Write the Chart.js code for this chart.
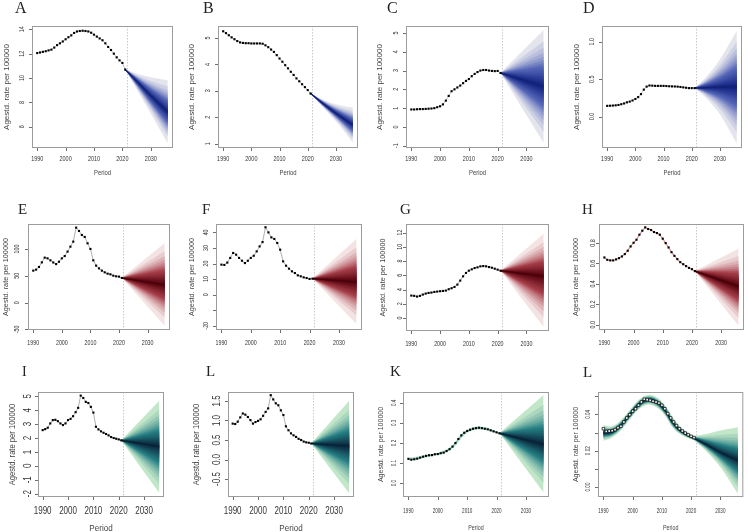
<!DOCTYPE html>
<html>
<head>
<meta charset="utf-8">
<script src="https://cdn.jsdelivr.net/npm/chart.js@4.4.1/dist/chart.umd.min.js"></script>
<style>
html, body { margin: 0; padding: 0; background: #fff; overflow: hidden; }
#fig { position: relative; width: 748px; height: 532px; overflow: hidden; }
#fig canvas { position: absolute; }
</style>
</head>
<body>
<div id="fig"></div>
<script>
// observed years and x ticks
const years = [1990,1991,1992,1993,1994,1995,1996,1997,1998,1999,2000,2001,2002,2003,2004,2005,
               2006,2007,2008,2009,2010,2011,2012,2013,2014,2015,2016,2017,2018,2019,2020,2021];
const xTicks = [1990, 2000, 2010, 2020, 2030];
const letters = ['A','B','C','D','E','F','G','H','I','L','K','L'];

// A
const obsA = [12.05,12.1,12.15,12.2,12.27,12.33,12.5,12.7,12.85,13.0,13.18,13.35,13.5,13.7,13.82,13.86,
              13.88,13.86,13.82,13.72,13.56,13.4,13.25,13.1,12.85,12.55,12.3,12.0,11.7,11.45,11.24,10.7];
const fanYearsA = [2021, 2025, 2030, 2036];
const fanMidA = [10.7, 9.75, 8.55, 7.2];
const fanLowA = [10.7, 9.1, 7.1, 4.65];
const fanHighA = [10.7, 10.35, 10.05, 9.8];
const yTicksA = [6, 8, 10, 12, 14];
const yLabelsA = ['6', '8', '10', '12', '14'];

// B
const obsB = [5.25,5.18,5.1,5.02,4.95,4.88,4.83,4.81,4.8,4.8,4.79,4.79,4.79,4.79,4.78,4.72,
              4.65,4.56,4.47,4.35,4.22,4.1,3.97,3.85,3.72,3.6,3.47,3.36,3.25,3.14,3.03,2.9];
const fanYearsB = [2021, 2025, 2030, 2036];
const fanMidB = [2.9, 2.55, 2.15, 1.71];
const fanLowB = [2.9, 2.42, 1.85, 1.05];
const fanHighB = [2.9, 2.68, 2.48, 2.35];
const yTicksB = [1, 2, 3, 4, 5];
const yLabelsB = ['1', '2', '3', '4', '5'];

// C
const obsC = [0.93,0.93,0.94,0.95,0.95,0.96,0.97,0.98,1.0,1.05,1.1,1.2,1.4,1.65,1.9,2.0,
              2.1,2.2,2.33,2.45,2.55,2.7,2.82,2.92,3.0,3.03,3.03,3.0,2.98,2.97,2.98,2.87];
const fanYearsC = [2021, 2036];
const fanMidC = [2.87, 2.14];
const fanLowC = [2.87, -0.85];
const fanHighC = [2.87, 5.15];
const yTicksC = [-1, 0, 1, 2, 3, 4, 5];
const yLabelsC = ['-1', '0', '1', '2', '3', '4', '5'];

// D
const obsD = [0.143,0.145,0.147,0.15,0.155,0.165,0.175,0.19,0.2,0.215,0.235,0.26,0.3,0.36,0.4,0.415,
              0.413,0.41,0.41,0.41,0.41,0.408,0.405,0.403,0.402,0.4,0.395,0.39,0.385,0.38,0.38,0.38];
const fanYearsD = [2021, 2025, 2030, 2036];
const fanMidD = [0.38, 0.385, 0.39, 0.395];
const fanLowD = [0.38, 0.25, 0.03, -0.36];
const fanHighD = [0.38, 0.52, 0.76, 1.14];
const yTicksD = [0, 0.5, 1.0];
const yLabelsD = ['0.0', '0.5', '1.0'];

// E
const obsE = [59.8,61.7,66.6,75.2,84,82.7,79,75,72,76.4,82.7,87,95.3,104.5,113.9,140,
              133.8,126.3,122.6,110.8,100.2,79,69.1,64,59.8,56.6,54.1,52.9,50.4,49.2,48.6,46.1];
const fanYearsE = [2021, 2036];
const fanMidE = [46.1, 33];
const fanLowE = [46.1, -43];
const fanHighE = [46.1, 111];
const yTicksE = [-50, 0, 50, 100];
const yLabelsE = ['-50', '0', '50', '100'];

// F
const obsF = [19.3,19.1,20.6,23.6,26.8,25.7,23.6,21.8,20.3,21.8,23.6,25,27.8,31,33.8,43.3,
              40,36.8,35.8,33.2,28.9,21.4,18.6,16.7,15,13.9,12.4,11.8,11.1,10.7,10.1,10.3];
const fanYearsF = [2021, 2036];
const fanMidF = [10.3, 8.1];
const fanLowF = [10.3, -18.8];
const fanHighF = [10.3, 35.8];
const yTicksF = [-20, -10, 0, 10, 20, 30, 40];
const yLabelsF = ['-20', '', '0', '10', '20', '30', '40'];

// G
const obsG = [3.16,3.12,3.02,3.12,3.3,3.44,3.53,3.58,3.67,3.72,3.77,3.81,3.86,4.05,4.19,4.37,
              4.7,5.26,5.86,6.33,6.65,6.84,7.02,7.12,7.26,7.3,7.26,7.16,7.07,6.93,6.79,6.65];
const fanYearsG = [2021, 2036];
const fanMidG = [6.65, 5.86];
const fanLowG = [6.65, -1.3];
const fanHighG = [6.65, 11.8];
const yTicksG = [0, 2, 4, 6, 8, 10, 12];
const yLabelsG = ['0', '2', '4', '6', '8', '10', '12'];

// H
const obsH = [0.659,0.636,0.63,0.63,0.64,0.652,0.669,0.692,0.725,0.767,0.803,0.833,0.882,0.921,0.954,0.938,
              0.928,0.908,0.898,0.882,0.843,0.8,0.757,0.711,0.675,0.643,0.613,0.593,0.574,0.557,0.544,0.525];
const fanYearsH = [2021, 2036];
const fanMidH = [0.525, 0.374];
const fanLowH = [0.525, -0.01];
const fanHighH = [0.525, 0.744];
const yTicksH = [0, 0.2, 0.4, 0.6, 0.8];
const yLabelsH = ['0.0', '0.2', '0.4', '0.6', '0.8'];

// I
const obsI = [2.57,2.64,2.74,3.05,3.29,3.31,3.21,3.05,2.93,3.05,3.29,3.38,3.57,3.86,4.17,5.05,
              4.88,4.6,4.52,4.24,3.83,2.81,2.62,2.48,2.38,2.29,2.19,2.07,2.0,1.95,1.9,1.83];
const fanYearsI = [2021, 2036];
const fanMidI = [1.83, 1.38];
const fanLowI = [1.83, -1.95];
const fanHighI = [1.83, 4.67];
const yTicksI = [-2, -1, 0, 1, 2, 3, 4, 5];
const yLabelsI = ['-2', '-1', '0', '1', '2', '3', '4', '5'];

// L (second in bottom row)
const obsL1 = [0.92,0.91,0.97,1.08,1.18,1.15,1.09,1.01,0.92,0.96,0.99,1.03,1.12,1.22,1.31,1.65,
               1.54,1.44,1.39,1.26,1.14,0.85,0.75,0.67,0.62,0.58,0.53,0.5,0.46,0.44,0.43,0.41];
const fanYearsL1 = [2021, 2036];
const fanMidL1 = [0.41, 0.34];
const fanLowL1 = [0.41, -0.87];
const fanHighL1 = [0.41, 1.5];
const yTicksL1 = [-0.5, 0, 0.5, 1.0, 1.5];
const yLabelsL1 = ['-0.5', '0.0', '0.5', '1.0', '1.5'];

// K
const obsK = [0.121,0.117,0.119,0.122,0.127,0.132,0.136,0.139,0.14,0.144,0.145,0.149,0.152,0.16,0.169,0.182,
              0.2,0.22,0.238,0.251,0.26,0.266,0.271,0.274,0.276,0.274,0.271,0.268,0.263,0.258,0.253,0.248];
const fitYearsK = [1990, 1995, 2000, 2005, 2010, 2015, 2021];
const fitLowK = [0.113, 0.125, 0.14, 0.173, 0.25, 0.267, 0.244];
const fitHighK = [0.127, 0.137, 0.152, 0.187, 0.266, 0.281, 0.252];
const fanYearsK = [2021, 2036];
const fanMidK = [0.248, 0.193];
const fanLowK = [0.248, -0.046];
const fanHighK = [0.248, 0.438];
const yTicksK = [0, 0.1, 0.2, 0.3, 0.4];
const yLabelsK = ['0.0', '0.1', '0.2', '0.3', '0.4'];

// L (last)
const obsL2 = [0.0321,0.0306,0.0308,0.031,0.0316,0.0327,0.0334,0.0358,0.038,0.0398,0.0417,0.0431,0.045,0.0468,0.0483,0.0481,
               0.0477,0.0472,0.0468,0.0462,0.045,0.0431,0.0404,0.038,0.0358,0.0338,0.0321,0.0308,0.0297,0.0288,0.0279,0.0272];
const fitYearsL2 = [1990, 1993, 1996, 1999, 2002, 2005, 2008, 2011, 2014, 2017, 2021];
const fitMidL2 = [0.0296, 0.0303, 0.034, 0.0397, 0.0452, 0.0479, 0.0468, 0.0422, 0.0348, 0.0302, 0.0268];
const fitLowL2 = [0.0253, 0.0272, 0.0312, 0.0371, 0.0426, 0.0453, 0.044, 0.0394, 0.0321, 0.0284, 0.0257];
const fitHighL2 = [0.0339, 0.0334, 0.0367, 0.0422, 0.0477, 0.0505, 0.0495, 0.045, 0.0376, 0.0321, 0.0279];
const fanYearsL2 = [2021, 2025, 2030, 2036];
const fanMidL2 = [0.0268, 0.0235, 0.019, 0.0147];
const fanLowL2 = [0.0257, 0.02, 0.011, -0.0037];
const fanHighL2 = [0.0279, 0.029, 0.031, 0.0327];
const yTicksL2 = [0, 0.01, 0.02, 0.03, 0.04, 0.05];
const yLabelsL2 = ['0.00', '', '0.02', '', '0.04', ''];

// shading levels of the fan (share of the half width, normal quantiles)
const fanLevels = [0.037, 0.074, 0.111, 0.149, 0.187, 0.228, 0.269, 0.313,
                   0.36, 0.41, 0.464, 0.526, 0.597, 0.684, 0.801, 1.0];

const X_MIN = 1988.16, X_MAX = 2037.84, CUT = 2021.5;
const PL = 45, PT = 30, PR = 1, PB = 40;

const themes = {
    blue: { ramp: ['#132483', '#5667b8', '#e3e4ec'], mid: '#15236f', line: '#a8a8a8' },
    red:  { ramp: ['#58040f', '#a63f4a', '#f4e3e3'], mid: '#42040a', line: '#8c8c8c' },
    teal: { ramp: ['#0b2a40', '#267f84', '#c2e6c8'], mid: '#0a2234', line: '#8c8c8c' }
};

const S1 = { tick: 7.6, tickSq: 0.72, xLabDy: 11, title: 8, titleSq: 1, period: true, periodDy: 25, periodSize: 7.4, periodSq: 0.8 };
const S2 = { tick: 7.4, tickSq: 0.72, xLabDy: 13, title: 7.5, titleSq: 0.97, period: false };
const S3 = { tick: 10, tickSq: 0.8, xLabDy: 14, title: 9.5, titleSq: 0.8, period: true, periodDy: 32, periodSize: 8.5, periodSq: 0.95 };
const S4 = { tick: 7.4, tickSq: 0.62, xLabDy: 13.5, title: 7, titleSq: 1, period: true, periodDy: 31.5, periodSize: 7, periodSq: 0.76 };

// box = plot region in page pixels
const layout = [
    { box: [32, 26, 176, 148],  y: [4.26, 14.27],    letter: [15, 13, 16],   labDx: 10,   titleDx: 25, st: S1 },
    { box: [218, 26, 361, 148], y: [0.84, 5.45],     letter: [203, 13, 16],  labDx: 10,   titleDx: 26, st: S1 },
    { box: [406, 26, 552, 148], y: [-1.12, 5.37],    letter: [387, 13, 16],  labDx: 10,   titleDx: 26, st: S1 },
    { box: [602, 26, 745, 148], y: [-0.42, 1.21],    letter: [583, 13, 16],  labDx: 10,   titleDx: 25, st: S1 },
    { box: [28, 224, 173, 330], y: [-51, 146.8],     letter: [18, 214, 15],  labDx: 11,   titleDx: 22, st: S2 },
    { box: [216, 224, 365, 330], y: [-22.7, 45.4],   letter: [202, 214, 15], labDx: 10.5, titleDx: 24, st: S2 },
    { box: [406, 224, 552, 331], y: [-1.81, 13.2],   letter: [400, 214, 15], labDx: 6,    titleDx: 23, st: S2 },
    { box: [599, 224, 747, 330], y: [-0.052, 0.987], letter: [582, 214, 15], labDx: 6,    titleDx: 23, st: S2 },
    { box: [38, 392, 167, 497], y: [-2.24, 5.31],    letter: [22, 376, 14],  labDx: 10,   titleDx: 26, st: S3 },
    { box: [228, 392, 357, 497], y: [-0.96, 1.73],   letter: [206, 376, 15], labDx: 11,   titleDx: 32, st: S3 },
    { box: [403, 392, 552, 497], y: [-0.069, 0.454], letter: [390, 376, 15], labDx: 9.5,  titleDx: 22, st: S4 },
    { box: [598, 392, 747, 497], y: [-0.0055, 0.0523], letter: [583, 377, 15], labDx: 10.5, titleDx: 22, st: S4 }
];

const panels = [
    { obs: obsA, fx: fanYearsA, fm: fanMidA, fl: fanLowA, fh: fanHighA, yt: yTicksA, yl: yLabelsA, theme: 'blue', tension: 0.35 },
    { obs: obsB, fx: fanYearsB, fm: fanMidB, fl: fanLowB, fh: fanHighB, yt: yTicksB, yl: yLabelsB, theme: 'blue', tension: 0.35 },
    { obs: obsC, fx: fanYearsC, fm: fanMidC, fl: fanLowC, fh: fanHighC, yt: yTicksC, yl: yLabelsC, theme: 'blue' },
    { obs: obsD, fx: fanYearsD, fm: fanMidD, fl: fanLowD, fh: fanHighD, yt: yTicksD, yl: yLabelsD, theme: 'blue', tension: 0.35 },
    { obs: obsE, fx: fanYearsE, fm: fanMidE, fl: fanLowE, fh: fanHighE, yt: yTicksE, yl: yLabelsE, theme: 'red' },
    { obs: obsF, fx: fanYearsF, fm: fanMidF, fl: fanLowF, fh: fanHighF, yt: yTicksF, yl: yLabelsF, theme: 'red' },
    { obs: obsG, fx: fanYearsG, fm: fanMidG, fl: fanLowG, fh: fanHighG, yt: yTicksG, yl: yLabelsG, theme: 'red' },
    { obs: obsH, fx: fanYearsH, fm: fanMidH, fl: fanLowH, fh: fanHighH, yt: yTicksH, yl: yLabelsH, theme: 'red', obsLine: '#dc8c8c' },
    { obs: obsI, fx: fanYearsI, fm: fanMidI, fl: fanLowI, fh: fanHighI, yt: yTicksI, yl: yLabelsI, theme: 'teal' },
    { obs: obsL1, fx: fanYearsL1, fm: fanMidL1, fl: fanLowL1, fh: fanHighL1, yt: yTicksL1, yl: yLabelsL1, theme: 'teal' },
    { obs: obsK, fx: fanYearsK, fm: fanMidK, fl: fanLowK, fh: fanHighK, yt: yTicksK, yl: yLabelsK, theme: 'teal',
      obsLine: '#5fb59e', bandX: fitYearsK, bandLow: fitLowK, bandHigh: fitHighK },
    { obs: obsL2, fx: fanYearsL2, fm: fanMidL2, fl: fanLowL2, fh: fanHighL2, yt: yTicksL2, yl: yLabelsL2, theme: 'teal',
      hollow: true, tension: 0.3, fitX: fitYearsL2, fitM: fitMidL2, fitL: fitLowL2, fitH: fitHighL2 }
];

function mix(a, b, t) {
    const ca = [1, 3, 5].map(i => parseInt(a.substr(i, 2), 16));
    const cb = [1, 3, 5].map(i => parseInt(b.substr(i, 2), 16));
    const c = ca.map((v, i) => Math.round(v + (cb[i] - v) * t));
    return 'rgb(' + c.join(',') + ')';
}
function ramp(stops, t) {
    const m = 0.55;
    return t < m ? mix(stops[0], stops[1], t / m) : mix(stops[1], stops[2], (t - m) / (1 - m));
}

// nested bands, innermost drawn last (lowest index)
function fanSets(xs, mid, low, high, stops, order, tension) {
    const sets = [];
    const n = fanLevels.length;
    fanLevels.forEach((f, k) => {
        const lo = xs.map((x, i) => ({ x: x, y: mid[i] - f * (mid[i] - low[i]) }));
        const hi = xs.map((x, i) => ({ x: x, y: mid[i] + f * (high[i] - mid[i]) }));
        const col = ramp(stops, k / (n - 1));
        sets.push({ data: lo, borderColor: 'rgba(0,0,0,0)', borderWidth: 0, pointRadius: 0, fill: false, order: order, tension: tension });
        sets.push({ data: hi, borderColor: col, borderWidth: 0.4, pointRadius: 0, fill: '-1', backgroundColor: col, order: order, tension: tension });
    });
    return sets;
}

function txt(ctx, s, x, y, size, sq, rot, family, color, align) {
    ctx.save();
    ctx.translate(x, y);
    if (rot) ctx.rotate(-Math.PI / 2);
    ctx.scale(sq, 1);
    ctx.font = size + 'px ' + family;
    ctx.fillStyle = color;
    ctx.textAlign = align || 'center';
    ctx.textBaseline = align ? 'alphabetic' : 'middle';
    ctx.fillText(s, 0, 0);
    ctx.restore();
}

const SANS = '"Liberation Sans", Arial, sans-serif';
const SERIF = '"Liberation Serif", "Times New Roman", serif';

function rPlot(p, lay, letter, offX, offY) {
    return {
        id: 'rPlot',
        beforeDatasetsDraw(chart) {
            const ctx = chart.ctx, a = chart.chartArea;
            const px = Math.round(chart.scales.x.getPixelForValue(CUT)) + 0.5;
            ctx.save();
            ctx.strokeStyle = '#c9c9c9';
            ctx.lineWidth = 1;
            ctx.setLineDash([1.5, 1.5]);
            ctx.beginPath(); ctx.moveTo(px, a.top); ctx.lineTo(px, a.bottom); ctx.stroke();
            ctx.restore();
        },
        afterDraw(chart) {
            const ctx = chart.ctx, a = chart.chartArea, sx = chart.scales.x, sy = chart.scales.y, st = lay.st;
            ctx.save();
            ctx.strokeStyle = '#9c9c9c';
            ctx.lineWidth = 1;
            ctx.strokeRect(a.left + 0.5, a.top + 0.5, a.right - a.left - 1, a.bottom - a.top - 1);
            ctx.strokeStyle = '#6e6e6e';
            ctx.beginPath();
            xTicks.forEach(v => {
                const x = Math.round(sx.getPixelForValue(v)) + 0.5;
                ctx.moveTo(x, a.bottom); ctx.lineTo(x, a.bottom + 3);
            });
            p.yt.forEach(v => {
                const y = Math.round(sy.getPixelForValue(v)) + 0.5;
                ctx.moveTo(a.left, y); ctx.lineTo(a.left - 3, y);
            });
            ctx.stroke();
            ctx.restore();
            const col = '#333333';
            xTicks.forEach(v => {
                txt(ctx, String(v), sx.getPixelForValue(v), a.bottom + st.xLabDy, st.tick, st.tickSq, false, SANS, col);
            });
            p.yt.forEach((v, i) => {
                if (p.yl[i]) txt(ctx, p.yl[i], a.left - lay.labDx, sy.getPixelForValue(v), st.tick, st.tickSq, true, SANS, col);
            });
            const cy = (a.top + a.bottom) / 2, cx = (a.left + a.right) / 2;
            txt(ctx, 'Agestd. rate per 100000', a.left - lay.titleDx, cy, st.title, st.titleSq, true, SANS, '#444444');
            if (st.period) txt(ctx, 'Period', cx, a.bottom + st.periodDy, st.periodSize, st.periodSq, false, SANS, '#444444');
            txt(ctx, letter, lay.letter[0] - offX, lay.letter[1] - offY, lay.letter[2], 1, false, SERIF, '#222', 'left');
        }
    };
}

const fig = document.getElementById('fig');

panels.forEach((p, idx) => {
    const lay = layout[idx];
    const [l, t, r, b] = lay.box;
    const cv = document.createElement('canvas');
    const w = r - l + PL + PR, h = b - t + PT + PB;
    cv.width = w; cv.height = h;
    cv.style.left = (l - PL) + 'px';
    cv.style.top = (t - PT) + 'px';
    cv.style.width = w + 'px';
    cv.style.height = h + 'px';
    fig.appendChild(cv);

    const th = themes[p.theme];
    const tension = p.tension || 0;
    const datasets = [];

    // observed
    datasets.push({
        data: years.map((x, i) => ({ x: x, y: p.obs[i] })),
        showLine: !p.hollow,
        borderColor: p.obsLine || th.line,
        borderWidth: p.obsLine ? 1.1 : 0.7,
        pointStyle: 'rect',
        pointRadius: p.hollow ? 1.8 : 1.5,
        pointBackgroundColor: p.hollow ? '#ffffff' : '#000000',
        pointBorderColor: '#000000',
        pointBorderWidth: p.hollow ? 0.7 : 0,
        fill: false,
        order: 0
    });
    // median
    datasets.push({
        data: p.fx.map((x, i) => ({ x: x, y: p.fm[i] })),
        borderColor: th.mid, borderWidth: 1.1, pointRadius: 0, fill: false, order: 1, tension: tension
    });
    fanSets(p.fx, p.fm, p.fl, p.fh, th.ramp, 2, tension).forEach(d => datasets.push(d));
    if (p.fitX) {
        fanSets(p.fitX, p.fitM, p.fitL, p.fitH, th.ramp, 3, 0.4).forEach(d => datasets.push(d));
    }
    if (p.bandX) {
        datasets.push({ data: p.bandX.map((x, i) => ({ x: x, y: p.bandLow[i] })), borderColor: 'rgba(0,0,0,0)', borderWidth: 0, pointRadius: 0, fill: false, order: 3, tension: 0.4 });
        datasets.push({ data: p.bandX.map((x, i) => ({ x: x, y: p.bandHigh[i] })), borderColor: 'rgba(0,0,0,0)', borderWidth: 0, pointRadius: 0, fill: '-1', backgroundColor: '#b9e2cc', order: 3, tension: 0.4 });
    }

    new Chart(cv.getContext('2d'), {
        type: 'line',
        data: { datasets: datasets },
        options: {
            responsive: false,
            animation: false,
            devicePixelRatio: 1,
            layout: { padding: { left: PL, top: PT, right: PR, bottom: PB } },
            plugins: { legend: { display: false }, tooltip: { enabled: false } },
            scales: {
                x: { type: 'linear', display: false, min: X_MIN, max: X_MAX },
                y: { type: 'linear', display: false, min: lay.y[0], max: lay.y[1] }
            }
        },
        plugins: [rPlot(p, lay, letters[idx], l - PL, t - PT)]
    });
});
</script>
</body>
</html>
